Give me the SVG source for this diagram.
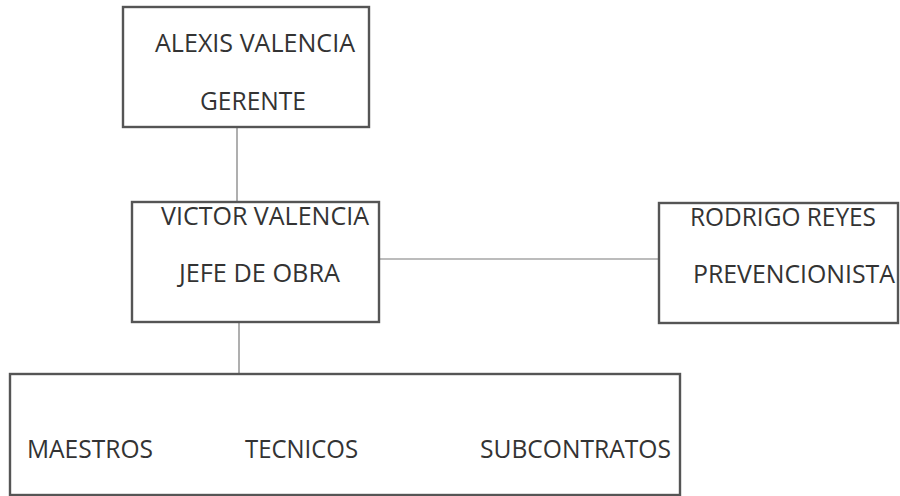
<svg xmlns="http://www.w3.org/2000/svg" width="900" height="496" viewBox="0 0 900 496">
<style>
.box{fill:#fff;stroke:#555;stroke-width:2.4}
.t{font-family:"Open Sans","Liberation Sans",Arial,sans-serif;font-size:25px;fill:#333}
.c{stroke:#7a7a7a;stroke-width:1.2;fill:none}
</style>
<rect width="900" height="496" fill="#fff"/>
<g id="connectors">
<line class="c" x1="237" y1="127" x2="237" y2="202"/>
<line class="c" x1="379" y1="259" x2="659" y2="259"/>
<line class="c" x1="239" y1="322" x2="239" y2="374"/>
</g>
<g id="gerente">
<rect class="box" x="123" y="7" width="246" height="120"/>
<text class="t" x="155" y="52" textLength="200" lengthAdjust="spacingAndGlyphs">ALEXIS VALENCIA</text>
<text class="t" x="200" y="110" textLength="106" lengthAdjust="spacingAndGlyphs">GERENTE</text>
</g>
<g id="jefe">
<rect class="box" x="132" y="202" width="247" height="120"/>
<text class="t" x="161" y="225" textLength="208" lengthAdjust="spacingAndGlyphs">VICTOR VALENCIA</text>
<text class="t" x="179" y="282" textLength="161" lengthAdjust="spacingAndGlyphs">JEFE DE OBRA</text>
</g>
<g id="prevencionista">
<rect class="box" x="659" y="203" width="239" height="120"/>
<text class="t" x="690" y="226" textLength="186" lengthAdjust="spacingAndGlyphs">RODRIGO REYES</text>
<text class="t" x="693" y="283" textLength="202" lengthAdjust="spacingAndGlyphs">PREVENCIONISTA</text>
</g>
<g id="equipo">
<rect class="box" x="10" y="374" width="670" height="121"/>
<text class="t" x="27" y="458" textLength="126" lengthAdjust="spacingAndGlyphs">MAESTROS</text>
<text class="t" x="245" y="458" textLength="113" lengthAdjust="spacingAndGlyphs">TECNICOS</text>
<text class="t" x="480" y="458" textLength="191" lengthAdjust="spacingAndGlyphs">SUBCONTRATOS</text>
</g>
</svg>
